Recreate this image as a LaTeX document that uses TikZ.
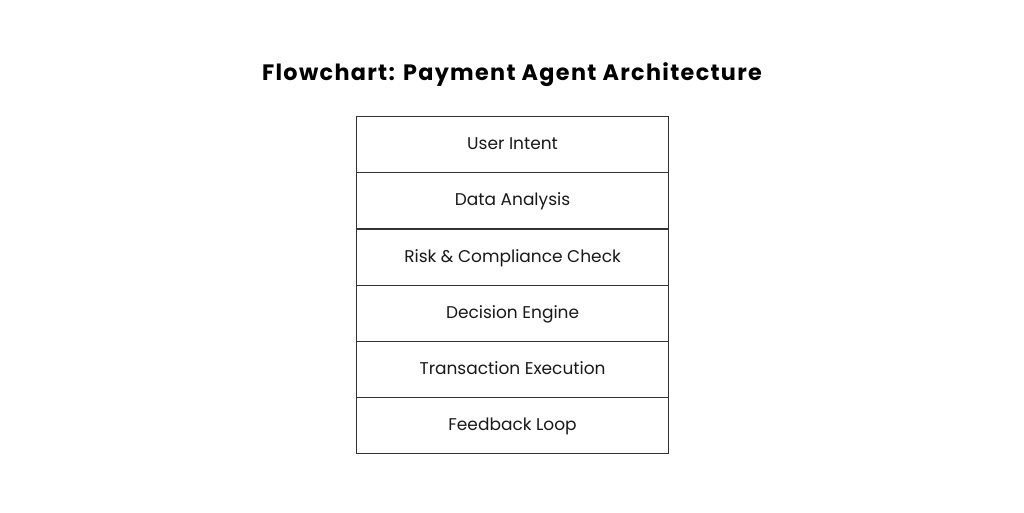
\documentclass[tikz,border=0pt]{standalone}
\usepackage{fontspec}
\setmainfont{Poppins}
\begin{document}
\begin{tikzpicture}[x=1pt,y=-1pt,
  row/.style={draw=black!80,line width=1.1pt,minimum width=312pt,minimum height=56.2pt,inner sep=0pt,anchor=north west,font=\fontsize{17}{20}\selectfont,text=black!90,text height=12pt,text depth=2pt},
  ttl/.style={font=\fontsize{22.3}{26}\selectfont\bfseries,text=black}]
\useasboundingbox (0,0) rectangle (1024,512);
\fill[white] (0,0) rectangle (1024,512);
\node[ttl,anchor=base] (title) at (512,80) {\addfontfeatures{LetterSpace=6}Flowchart: Payment Agent Architecture};
\node[row] (r1) at (356,116.0) {User Intent};
\node[row] (r2) at (356,172.2) {Data Analysis};
\node[row] (r3) at (356,228.4) {Risk \& Compliance Check};
\node[row] (r4) at (356,284.6) {Decision Engine};
\node[row] (r5) at (356,340.8) {Transaction Execution};
\node[row] (r6) at (356,397.0) {Feedback Loop};
\end{tikzpicture}
\end{document}
